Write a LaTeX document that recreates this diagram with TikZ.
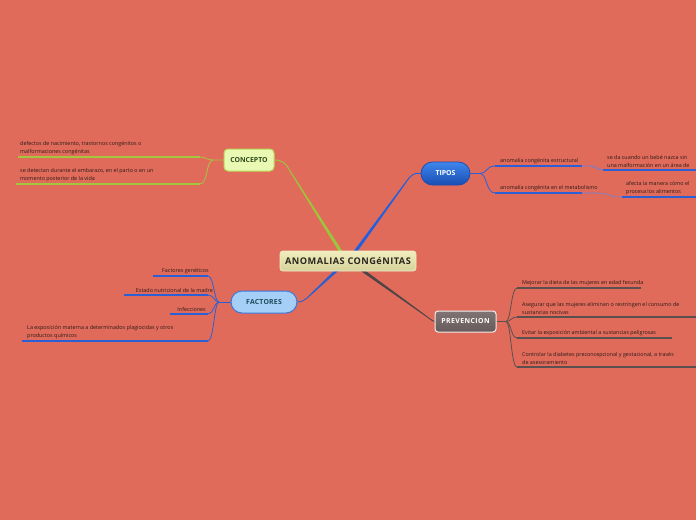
\documentclass[tikz,border=0pt]{standalone}
\usepackage{fontspec}
\setmainfont{Open Sans}
\usetikzlibrary{calc,shapes.misc}
\definecolor{bgc}{HTML}{E16B5B}
\definecolor{leaf}{HTML}{2A1A16}
\definecolor{gline}{HTML}{A4C63E}
\definecolor{bline}{HTML}{2A5FD6}
\definecolor{pline}{HTML}{5B5050}
\definecolor{rtop}{HTML}{F1EDBE}
\definecolor{rbot}{HTML}{D6D29A}
\definecolor{rdraw}{HTML}{EEEBC8}
\definecolor{rtext}{HTML}{2A2620}
\definecolor{cfill}{HTML}{E9F8B2}
\definecolor{cdraw}{HTML}{B6DA58}
\definecolor{ctext}{HTML}{2F4A1E}
\definecolor{ttop}{HTML}{3E86EC}
\definecolor{tbot}{HTML}{1A4DB4}
\definecolor{tdraw}{HTML}{1B4FB2}
\definecolor{ffill}{HTML}{A6CFF8}
\definecolor{fdraw}{HTML}{3A78DA}
\definecolor{ftext}{HTML}{1E4858}
\definecolor{ptop}{HTML}{817474}
\definecolor{pbot}{HTML}{665A5A}
\definecolor{pdraw}{HTML}{F2EEEE}
\definecolor{mgreen}{HTML}{9CC63A}
\definecolor{mblue}{HTML}{1F5FE0}
\definecolor{mblue2}{HTML}{2A5FD0}
\definecolor{mgray}{HTML}{4E4646}
\definecolor{fade1}{HTML}{6A7FD8}
\definecolor{fade2}{HTML}{9A7AA8}
\pgfdeclarelayer{back}
\pgfsetlayers{back,main}
\newcommand\mytaper[5]{\fill[#1] ($(#2)!#4!90:(#3)$) -- ($(#3)!#5!-90:(#2)$) -- ($(#3)!#5!90:(#2)$) -- ($(#2)!#4!-90:(#3)$) -- cycle;}
\tikzset{
  leaftext/.style={anchor=south west,inner sep=0pt,font=\fontsize{5.4}{8}\selectfont,text=leaf,align=left},
  leaftextr/.style={anchor=south east,inner sep=0pt,font=\fontsize{5.4}{8}\selectfont,text=leaf,align=right},
  gu/.style={draw=gline,line width=1.3pt},
  bu/.style={draw=bline,line width=1.3pt},
  pu/.style={draw=pline,line width=1.3pt},
  gc/.style={draw=gline,line width=0.8pt},
  bc/.style={draw=bline,line width=0.8pt},
  pc/.style={draw=pline,line width=0.8pt},
  rootbox/.style={rounded corners=3pt,top color=rtop,bottom color=rbot,draw=rdraw,line width=0.8pt,
     minimum width=136pt,minimum height=20pt,inner sep=0pt,text=rtext,font=\bfseries\fontsize{9.2}{10}\selectfont\addfontfeatures{LetterSpace=5}},
  conbox/.style={rounded corners=4pt,fill=cfill,draw=cdraw,line width=1pt,minimum width=50pt,minimum height=22pt,
     inner sep=0pt,text=ctext,font=\bfseries\fontsize{6.9}{8}\selectfont},
  tipbox/.style={rounded rectangle,top color=ttop,bottom color=tbot,draw=tdraw,line width=0.8pt,
     minimum width=49pt,minimum height=23pt,inner sep=0pt,text=white,font=\bfseries\fontsize{6.9}{8}\selectfont},
  facbox/.style={rounded rectangle,fill=ffill,draw=fdraw,line width=1pt,minimum width=66pt,minimum height=22pt,
     inner sep=0pt,text=ftext,font=\bfseries\fontsize{6.9}{8}\selectfont\addfontfeatures{LetterSpace=3}},
  prebox/.style={rounded corners=3pt,top color=ptop,bottom color=pbot,draw=pdraw,line width=1pt,
     minimum width=61pt,minimum height=21pt,inner sep=0pt,text=white,font=\bfseries\fontsize{6.9}{8}\selectfont\addfontfeatures{LetterSpace=6}},
}
\begin{document}
\begin{tikzpicture}[x=1pt,y=-1pt]
\begin{pgfonlayer}{back}
\fill[bgc] (0,0) rectangle (696,520);
\end{pgfonlayer}
\useasboundingbox (0,0) rectangle (696,520);

% main nodes
\node[rootbox] (root) at (348,261) {ANOMALIAS CONGéNITAS};
\node[conbox] (con) at (249,160) {CONCEPTO};
\node[tipbox] (tip) at (445.5,173.5) {TIPOS};
\node[facbox] (fac) at (264,302) {FACTORES};
\node[prebox] (pre) at (465.5,321.5) {PREVENCION};

% coordinates of connector ends
\coordinate (rg) at (341,252);
\coordinate (rb) at (355,252);
\coordinate (rf) at (337,270);
\coordinate (rp) at (362,270);
\coordinate (kg) at (290,171);
\coordinate (kb) at (409,178);
\coordinate (kf) at (307,298);
\coordinate (kp) at (426,316);

% CONCEPTO
\coordinate (c1a) at (200,157); \coordinate (c1b) at (18,157);
\coordinate (c2a) at (200,184); \coordinate (c2b) at (16,184);
\node[leaftext] (c1) at (20,155) {defectos de nacimiento, trastornos congénitos o\\malformaciones congénitas};
\node[leaftext] (c2) at (20,182) {se detectan durante el embarazo, en el parto o en un\\momento posterior de la vida};
% TIPOS
\coordinate (t1a) at (495,166); \coordinate (t1b) at (582,166); \coordinate (t1c) at (590,166);
\coordinate (t2a) at (495,193); \coordinate (t2b) at (582,193); \coordinate (t2c) at (596,193);
\node[leaftext] (t1) at (500,163.5) {anomalía congénita estructural};
\node[leaftext] (t2) at (500,190.5) {anomalía congénita en el metabolismo};
\coordinate (s1a) at (603,170); \coordinate (s1b) at (700,170);
\coordinate (s2a) at (622,197); \coordinate (s2b) at (700,197);
\node[leaftext] (s1) at (607,168) {se da cuando un bebé nazca sin\\una malformación en un área de};
\node[leaftext] (s2) at (626,195) {afecta la manera cómo el\\procesa los alimentos};
% FACTORES
\coordinate (f1a) at (208,276); \coordinate (f1b) at (153,276);
\coordinate (f2a) at (208,295); \coordinate (f2b) at (124,295);
\coordinate (f3a) at (208,314); \coordinate (f3b) at (170,314);
\coordinate (f4a) at (208,341); \coordinate (f4b) at (22,341);
\node[leaftextr] (f1) at (209,273.5) {Factores genéticos};
\node[leaftextr] (f2) at (213,292.5) {Estado nutricional de la madre};
\node[leaftextr] (f3) at (206,311.5) {Infecciones};
\node[leaftext] (f4) at (27,339) {La exposición materna a determinados plagiocidas y otros\\productos químicos};
% PREVENCION
\coordinate (p1a) at (517,288); \coordinate (p1b) at (641,288);
\coordinate (p2a) at (517,317); \coordinate (p2b) at (700,317);
\coordinate (p3a) at (517,338); \coordinate (p3b) at (672,338);
\coordinate (p4a) at (517,367); \coordinate (p4b) at (700,367);
\node[leaftext] (p1) at (522,285.5) {Mejorar la dieta de las mujeres en edad fecunda};
\node[leaftext] (p2) at (522,314.5) {Asegurar que las mujeres eliminan o restringen el consumo de\\sustancias nocivas};
\node[leaftext] (p3) at (522,335.5) {Evitar la exposición ambiental a sustancias peligrosas};
\node[leaftext] (p4) at (522,364.5) {Controlar la diabetes preconcepcional y gestacional, a través\\de asesoramiento};

\begin{pgfonlayer}{back}
% main connectors (tapered)
\mytaper{mgreen}{rg}{kg}{1.6pt}{0.5pt}
\draw[draw=mgreen,line width=0.9pt] (kg) .. controls (286,163) and (282,160) .. (con.east);
\mytaper{mblue}{rb}{kb}{1.6pt}{0.5pt}
\draw[draw=mblue,line width=0.9pt] (kb) .. controls (414,173) and (416,173) .. (tip.west);
\mytaper{mblue2}{rf}{kf}{1.5pt}{0.5pt}
\draw[draw=mblue2,line width=0.9pt] (kf) .. controls (302,302) and (300,302) .. (fac.east);
\mytaper{mgray}{rp}{kp}{1.5pt}{0.5pt}
\draw[draw=mgray,line width=0.9pt] (kp) .. controls (431,320) and (433,321) .. (pre.west);

% CONCEPTO branches
\coordinate (cj) at (213,160);
\draw[gc] (con.west) -- (cj) .. controls (207,160) and (206,157) .. (c1a);
\draw[gc] (cj) .. controls (206,160) and (208,184) .. (c2a);
\draw[gu] (c1a) -- (c1b);
\draw[gu] (c2a) -- (c2b);

% TIPOS branches
\coordinate (tj) at (480,173.5);
\draw[bc] (tip.east) -- (tj) .. controls (487,173.5) and (486,166) .. (t1a);
\draw[bc] (tj) .. controls (487,173.5) and (486,193) .. (t2a);
\draw[bu] (t1a) -- (t1b);
\draw[bu] (t2a) -- (t2b);
\draw[draw=fade1,line width=0.9pt] (t1b) -- (t1c) .. controls (596,166) and (597,170) .. (s1a);
\draw[draw=fade2,line width=1.1pt] (t2b) -- (t2c) .. controls (608,193) and (610,197) .. (s2a);
\draw[bu] (s1a) -- (s1b);
\draw[bu] (s2a) -- (s2b);

% FACTORES branches
\coordinate (fj) at (219,302);
\draw[bc] (fac.west) -- (fj);
\draw[bc] (fj) .. controls (214,302) and (214,276) .. (f1a);
\draw[bc] (fj) .. controls (214,302) and (214,295) .. (f2a);
\draw[bc] (fj) .. controls (214,302) and (214,314) .. (f3a);
\draw[bc] (fj) .. controls (214,302) and (214,341) .. (f4a);
\draw[bu] (f1a) -- (f1b);
\draw[bu] (f2a) -- (f2b);
\draw[bu] (f3a) -- (f3b);
\draw[bu] (f4a) -- (f4b);

% PREVENCION branches
\coordinate (pj) at (506,321.5);
\draw[pc] (pre.east) -- (pj);
\draw[pc] (pj) .. controls (511,321.5) and (511,288) .. (p1a);
\draw[pc] (pj) .. controls (511,321.5) and (511,317) .. (p2a);
\draw[pc] (pj) .. controls (511,321.5) and (511,338) .. (p3a);
\draw[pc] (pj) .. controls (511,321.5) and (511,367) .. (p4a);
\draw[pu] (p1a) -- (p1b);
\draw[pu] (p2a) -- (p2b);
\draw[pu] (p3a) -- (p3b);
\draw[pu] (p4a) -- (p4b);
\end{pgfonlayer}
\end{tikzpicture}
\end{document}
